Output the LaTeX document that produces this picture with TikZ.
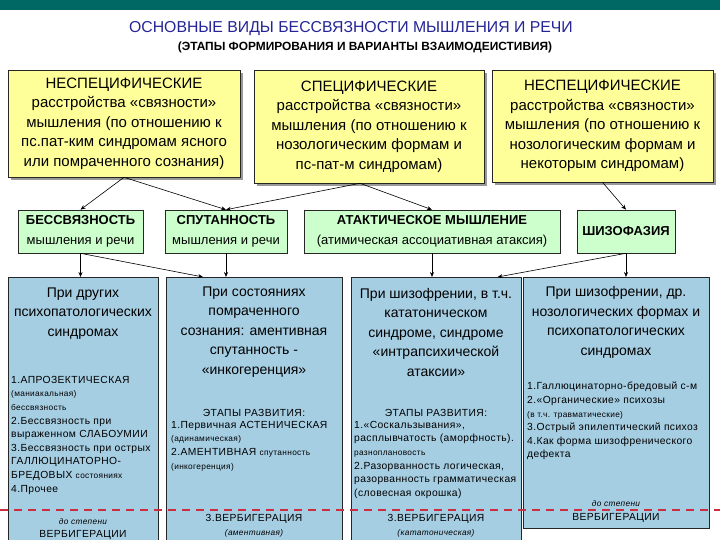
\documentclass[tikz,border=0pt]{standalone}
\usepackage{fontspec}
\setmainfont{Liberation Sans}
\newfontfamily\listfont[LetterSpace=4]{Liberation Sans}
\usetikzlibrary{arrows.meta,shadows,calc}

\definecolor{barteal}{RGB}{0,104,100}
\definecolor{titleblue}{RGB}{36,36,150}
\definecolor{boxyellow}{RGB}{255,255,153}
\definecolor{boxgreen}{RGB}{204,255,204}
\definecolor{boxblue}{RGB}{166,206,227}
\definecolor{cutred}{RGB}{205,45,65}

\newcommand{\minortext}{\fontsize{8.3}{13.6}\selectfont}
\newcommand{\majortext}{\listfont\fontsize{10.3}{13.6}\selectfont}

\begin{document}
\begin{tikzpicture}[
    x=1pt, y=-1pt,
    box/.style={rectangle, draw=black!85, line width=0.6pt, inner sep=0pt, align=center},
    upper/.style={box, fill=boxyellow,
                  drop shadow={shadow xshift=3pt, shadow yshift=-3pt, fill=black!40, opacity=1},
                  font=\fontsize{15}{19.5}\selectfont},
    kind/.style={box, fill=boxgreen, minimum height=43pt, font=\fontsize{13}{20}\selectfont},
    column/.style={rectangle, draw=black!85, line width=0.6pt, fill=boxblue, anchor=north west, inner sep=0pt},
    coltitle/.style={align=center, inner sep=0pt, font=\fontsize{14}{19.5}\selectfont},
    collist/.style={align=left, inner sep=0pt, anchor=north west, font=\majortext},
    colfoot/.style={align=center, inner sep=0pt, font=\majortext},
    cutline/.style={draw=cutred, line width=1.1pt, dash pattern=on 8pt off 6pt},
    arrow/.style={-{Stealth[length=5pt, width=4pt]}, line width=0.6pt}
]
    \useasboundingbox (0,0) rectangle (720,540);
    \clip (0,0) rectangle (720,540);
    \fill[barteal] (0,0) rectangle (720,10);

    \node[text=titleblue, font=\fontsize{15.8}{20}\selectfont] (title) at (351,29)
        {ОСНОВНЫЕ ВИДЫ  БЕССВЯЗНОСТИ МЫШЛЕНИЯ И РЕЧИ};
    \node[font=\bfseries\fontsize{11.9}{14}\selectfont] (subtitle) at (365,47)
        {(ЭТАПЫ ФОРМИРОВАНИЯ И ВАРИАНТЫ ВЗАИМОДЕИСТИВИЯ)};

    \node[upper, minimum width=232pt, minimum height=107pt] (top1) at (124,123.5)
        {НЕСПЕЦИФИЧЕСКИЕ\\расстройства «связности»\\мышления (по отношению к\\пс.пат-ким синдромам ясного\\или помраченного сознания)};
    \node[upper, minimum width=230pt, minimum height=113pt] (top2) at (369,126.5)
        {СПЕЦИФИЧЕСКИЕ\\расстройства «связности»\\мышления (по отношению к\\нозологическим формам и\\пс-пат-м синдромам)};
    \node[upper, minimum width=221pt, minimum height=112pt] (top3) at (602.5,126)
        {НЕСПЕЦИФИЧЕСКИЕ\\расстройства «связности»\\мышления (по отношению к\\нозологическим формам и\\некоторым синдромам)};

    \node[kind, minimum width=125pt] (g1) at (80.5,231.5) {\textbf{БЕССВЯЗНОСТЬ}\\мышления и речи};
    \node[kind, minimum width=122pt] (g2) at (226,231.5) {\textbf{СПУТАННОСТЬ}\\мышления и речи};
    \node[kind, minimum width=256pt] (g3) at (432,231.5) {\textbf{АТАКТИЧЕСКОЕ МЫШЛЕНИЕ}\\(атимическая ассоциативная атаксия)};
    \node[kind, minimum width=98pt] (g4) at (626,231.5) {\textbf{ШИЗОФАЗИЯ}};

    \node[column, minimum width=150pt, minimum height=270pt] (c1) at (8,277) {};
    \node[column, minimum width=176pt, minimum height=270pt] (c2) at (166,277) {};
    \node[column, minimum width=170pt, minimum height=270pt] (c3) at (351,277) {};
    \node[column, minimum width=186pt, minimum height=251pt] (c4) at (523,277) {};

    \draw[cutline] (0,510) -- (720,510);

    \node[coltitle] (c1title) at (83,313.5) {При других\\психопатологических\\синдромах};
    \node[coltitle] (c2title) at (254,332) {При состояниях\\помраченного\\сознания: аментивная\\спутанность  -\\«инкогеренция»};
    \node[coltitle] (c3title) at (436,332) {При шизофрении, в т.ч.\\кататоническом\\синдроме, синдроме\\«интрапсихической\\атаксии»};
    \node[coltitle] (c4title) at (616,322.5) {При шизофрении, др.\\нозологических формах и\\психопатологических\\синдромах};

    \node[collist] (c1list) at (11,376)
        {1.АПРОЗЕКТИЧЕСКАЯ\\{\minortext (маниакальная)}\\{\minortext бессвязность}\\2.Бессвязность при\\выраженном СЛАБОУМИИ\\3.Бессвязность при острых\\ГАЛЛЮЦИНАТОРНО-\\БРЕДОВЫХ {\minortext состояниях}\\4.Прочее};

    \node[colfoot] (c2stage) at (254,413) {ЭТАПЫ РАЗВИТИЯ:};
    \node[collist] (c2list) at (171,421)
        {1.Первичная АСТЕНИЧЕСКАЯ\\{\minortext (адинамическая)}\\2.АМЕНТИВНАЯ {\minortext спутанность}\\{\minortext (инкогеренция)}};

    \node[colfoot] (c3stage) at (436,413) {ЭТАПЫ РАЗВИТИЯ:};
    \node[collist] (c3list) at (354,421)
        {1.«Соскальзывания»,\\расплывчатость (аморфность).\\{\minortext разноплановость}\\2.Разорванность логическая,\\разорванность грамматическая\\(словесная окрошка)};

    \node[collist] (c4list) at (527,382)
        {1.Галлюцинаторно-бредовый с-м\\2.«Органические» психозы\\{\minortext (в т.ч. травматические)}\\3.Острый эпилептический психоз\\4.Как форма шизофренического\\дефекта};

    \node[colfoot] (c1foot) at (83,529) {{\itshape\minortext до степени}\\ВЕРБИГЕРАЦИИ};
    \node[colfoot] (c2foot) at (254,526) {3.ВЕРБИГЕРАЦИЯ\\{\itshape\minortext (аментивная)}};
    \node[colfoot] (c3foot) at (436,526) {3.ВЕРБИГЕРАЦИЯ\\{\itshape\minortext (кататоническая)}};
    \node[colfoot] (c4foot) at (616,511.5) {{\itshape\minortext до степени}\\ВЕРБИГЕРАЦИИ};

    \coordinate (top2out) at ($(top2.south)+(-9,0)$);
    \draw[arrow] (top1.south) -- (g1.north);
    \draw[arrow] (top1.south) -- (g2.north);
    \draw[arrow] (top2out) -- (g2.north);
    \draw[arrow] (top2out) -- (g3.north);
    \draw[arrow] (top3.south) -- (g4.north);

    \draw[arrow] (g1.south) -- (g1.south |- c1.north);
    \draw[arrow] (g1.south) -- ($(c2.north west)+(37,0)$);
    \draw[arrow] (g2.south) -- (g2.south |- c2.north);
    \draw[arrow] (g3.south) -- (g3.south |- c3.north);
    \draw[arrow] (g4.south) -- (g4.south |- c4.north);
    \draw[arrow] (g4.south) -- ($(c3.north east)+(-24,0)$);
\end{tikzpicture}
\end{document}
